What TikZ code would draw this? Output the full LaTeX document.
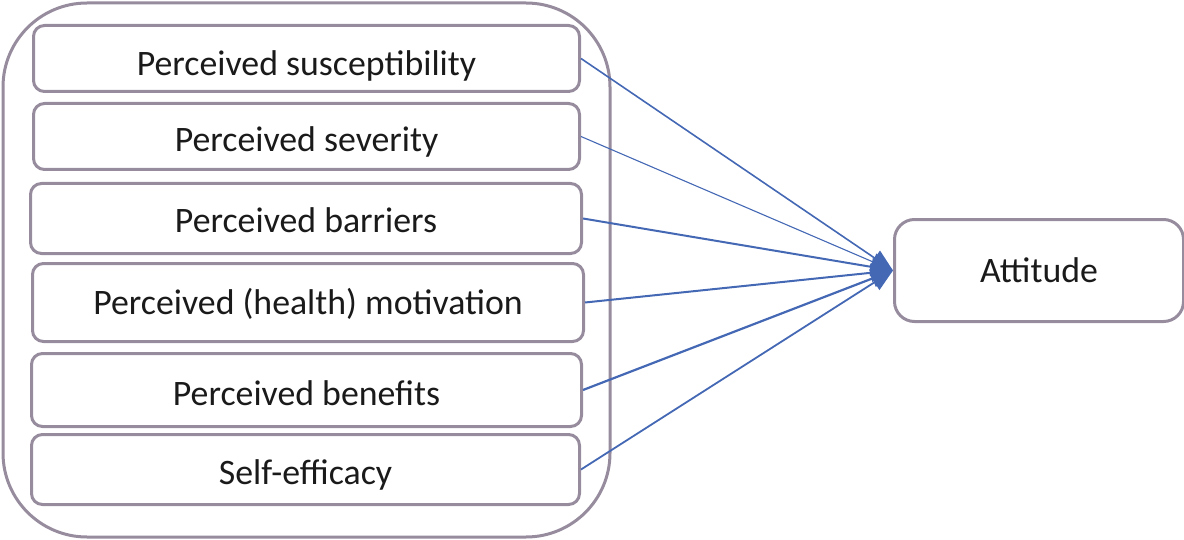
\documentclass[tikz,border=0pt]{standalone}
\usepackage{fontspec}
\setmainfont{Carlito}
\usetikzlibrary{arrows.meta}
\definecolor{boxgray}{HTML}{968C9E}
\definecolor{linkblue}{HTML}{4468B4}
\definecolor{txt}{HTML}{1A1A1A}
\begin{document}
\begin{tikzpicture}[x=0.5pt,y=-0.5pt,
  box/.style={draw=boxgray, line width=1.5pt, rounded corners=5.5pt, anchor=north west,
    inner sep=0pt, text=txt, font=\fontsize{17.9}{20}\selectfont},
  lift/.style={text height=#1, text depth=0pt},
  link/.style={draw=linkblue, -{Triangle[length=11pt,width=9pt]}}]
\useasboundingbox (0,0) rectangle (1184,540);
\draw[boxgray, line width=1.5pt, rounded corners=42pt] (3,3) rectangle (610,537);
\node[box, lift=17.5pt, minimum width=273pt, minimum height=33pt] (b1) at (32,24) {Perceived susceptibility};
\node[box, lift=15.5pt, minimum width=273pt, minimum height=33pt] (b2) at (32,102) {Perceived severity};
\node[box, lift=14pt, minimum width=275.5pt, minimum height=35pt] (b3) at (29,182) {Perceived barriers};
\node[box, lift=11.5pt, minimum width=275.5pt, minimum height=39pt] (b4) at (31,262) {Perceived (health) motivation};
\node[box, lift=15pt, minimum width=275pt, minimum height=36.5pt] (b5) at (30,352) {Perceived benefits};
\node[box, lift=15pt, minimum width=274pt, minimum height=35pt] (b6) at (30,433) {Self-efficacy};
\node[box, lift=11.5pt, rounded corners=10pt, minimum width=144.5pt, minimum height=51pt] (att) at (893,218) {Attitude};
\draw[link, line width=0.8pt] (b1.east) -- (att.west);
\draw[link, line width=0.55pt] (b2.east) -- (att.west);
\draw[link, line width=1.0pt] (b3.east) -- (att.west);
\draw[link, line width=1.0pt] (b4.east) -- (att.west);
\draw[link, line width=1.1pt] (b5.east) -- (att.west);
\draw[link, line width=0.9pt] (b6.east) -- (att.west);
\end{tikzpicture}
\end{document}
